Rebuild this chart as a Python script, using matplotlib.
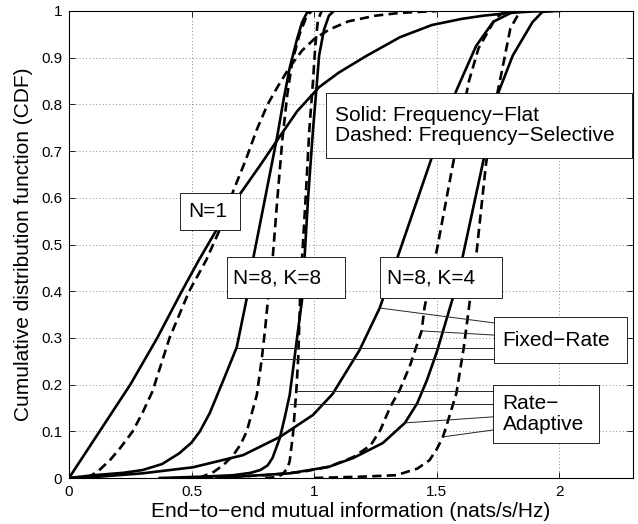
#!/usr/bin/env python3
"""
CDF of end-to-end mutual information, frequency-flat vs frequency-selective.
Saves out.png
"""

import matplotlib
matplotlib.use("Agg")
import matplotlib.pyplot as plt
from matplotlib.patches import Rectangle

# N=1
n1_flat_x = [0, 0.125, 0.25, 0.36, 0.46, 0.53, 0.60, 0.70, 0.78, 0.85, 0.93,
             1.02, 1.10, 1.21, 1.35, 1.48, 1.60, 1.69, 1.80, 1.89, 2.0]
n1_flat_y = [0, 0.1, 0.2, 0.3, 0.4, 0.467, 0.53, 0.61, 0.67, 0.724, 0.785,
             0.837, 0.868, 0.903, 0.944, 0.97, 0.983, 0.99, 0.996, 0.999, 1.0]
n1_sel_x = [0.073, 0.12, 0.17, 0.21, 0.26, 0.30, 0.34, 0.41, 0.49, 0.56, 0.63,
            0.67, 0.72, 0.765, 0.81, 0.85, 0.90, 0.95, 1.0, 1.06, 1.14, 1.25,
            1.35, 1.5]
n1_sel_y = [0, 0.015, 0.04, 0.065, 0.1, 0.14, 0.185, 0.3, 0.4, 0.467, 0.55,
            0.615, 0.68, 0.745, 0.8, 0.837, 0.88, 0.915, 0.94, 0.96, 0.978, 0.99,
            0.996, 1.0]

# N=8, K=8
k8_fr_flat_x = [0, 0.1, 0.22, 0.30, 0.38, 0.45, 0.50, 0.534, 0.574, 0.60, 0.63,
                0.684, 0.725, 0.75, 0.80, 0.85, 0.875, 0.90, 0.93, 0.95, 0.97,
                0.99]
k8_fr_flat_y = [0, 0.006, 0.011, 0.017, 0.03, 0.053, 0.076, 0.1, 0.139, 0.172,
                0.21, 0.28, 0.385, 0.467, 0.6, 0.734, 0.81, 0.878, 0.94, 0.975,
                0.996, 1.0]
k8_fr_sel_x = [0.53, 0.59, 0.63, 0.67, 0.70, 0.725, 0.766, 0.786, 0.80, 0.81,
               0.83, 0.85, 0.87, 0.89, 0.91, 0.94, 0.97, 0.99]
k8_fr_sel_y = [0, 0.013, 0.028, 0.049, 0.072, 0.1, 0.178, 0.255, 0.32, 0.375,
               0.467, 0.6, 0.724, 0.82, 0.89, 0.95, 0.99, 1.0]
k8_ra_flat_x = [0.37, 0.55, 0.67, 0.74, 0.78, 0.81, 0.83, 0.86, 0.88, 0.90,
                0.913, 0.93, 0.95, 0.96, 0.975, 0.995, 1.01, 1.02, 1.04, 1.06,
                1.08]
k8_ra_flat_y = [0, 0.003, 0.006, 0.011, 0.017, 0.027, 0.043, 0.086, 0.13, 0.178,
                0.23, 0.3, 0.38, 0.467, 0.6, 0.745, 0.84, 0.905, 0.96, 0.99, 1.0]
k8_ra_sel_x = [0.80, 0.85, 0.87, 0.89, 0.90, 0.913, 0.927, 0.935, 0.942, 0.95,
               0.965, 0.98, 0.995, 1.005, 1.015, 1.03]
k8_ra_sel_y = [0, 0.002, 0.008, 0.02, 0.036, 0.092, 0.186, 0.26, 0.38, 0.467,
               0.6, 0.745, 0.85, 0.93, 0.98, 1.0]

# N=8, K=4
k4_fr_flat_x = [0, 0.1, 0.3, 0.506, 0.71, 0.86, 0.995, 1.075, 1.185, 1.267,
                1.34, 1.41, 1.48, 1.58, 1.66, 1.73, 1.81, 1.85]
k4_fr_flat_y = [0, 0.002, 0.01, 0.023, 0.049, 0.088, 0.135, 0.18, 0.274, 0.364,
                0.473, 0.58, 0.687, 0.83, 0.925, 0.977, 0.998, 1.0]
k4_fr_sel_x = [0.55, 0.8, 0.95, 1.06, 1.16, 1.23, 1.27, 1.31, 1.35, 1.39,
               1.438, 1.45, 1.50, 1.565, 1.63, 1.67, 1.74, 1.78]
k4_fr_sel_y = [0, 0.006, 0.013, 0.024, 0.045, 0.07, 0.103, 0.152, 0.19, 0.24,
               0.315, 0.366, 0.488, 0.67, 0.848, 0.92, 0.985, 1.0]
k4_ra_flat_x = [0.6, 0.9, 1.06, 1.16, 1.28, 1.37, 1.42, 1.46, 1.50, 1.565,
                1.605, 1.69, 1.75, 1.81, 1.89, 1.93, 1.97]
k4_ra_flat_y = [0, 0.01, 0.024, 0.043, 0.075, 0.118, 0.16, 0.21, 0.27, 0.385,
                0.473, 0.68, 0.824, 0.905, 0.976, 0.998, 1.0]
k4_ra_sel_x = [1.0, 1.2, 1.335, 1.42, 1.47, 1.50, 1.525, 1.55, 1.58, 1.61,
               1.635, 1.66, 1.70, 1.73, 1.77, 1.80, 1.84]
k4_ra_sel_y = [0, 0.003, 0.006, 0.02, 0.038, 0.062, 0.088, 0.13, 0.182, 0.28,
               0.381, 0.473, 0.67, 0.78, 0.884, 0.963, 1.0]

x_ticks = [0, 0.5, 1, 1.5, 2]
x_tick_labels = ["0", "0.5", "1", "1.5", "2"]
y_ticks = [0, 0.1, 0.2, 0.3, 0.4, 0.5, 0.6, 0.7, 0.8, 0.9, 1]
y_tick_labels = ["0", "0.1", "0.2", "0.3", "0.4", "0.5", "0.6", "0.7", "0.8", "0.9", "1"]

# pointer lines from the two annotation boxes (start point on curve, end on box)
fixed_rate_ptrs = [((1.267, 0.364), (1.735, 0.332)),
                   ((1.438, 0.315), (1.735, 0.306)),
                   ((0.684, 0.279), (1.735, 0.279)),
                   ((0.786, 0.255), (1.735, 0.255))]
rate_adapt_ptrs = [((0.933, 0.186), (1.731, 0.186)),
                   ((0.900, 0.158), (1.731, 0.158)),
                   ((1.370, 0.118), (1.731, 0.131)),
                   ((1.525, 0.088), (1.731, 0.103))]


def add_box(ax, x0, x1, y0, y1, text, tx, fs=15):
    ax.add_patch(Rectangle((x0, y0), x1 - x0, y1 - y0, facecolor="white",
                           edgecolor="black", linewidth=0.6, zorder=5))
    ax.text(tx, (y0 + y1) / 2, text, ha="left", va="center", fontsize=fs,
            linespacing=1.1, zorder=6)


def main():
    plt.rcParams["font.family"] = ["Liberation Sans", "DejaVu Sans"]

    fig = plt.figure(figsize=(6.38, 5.24), dpi=100)
    ax = fig.add_axes([69 / 638, 1 - 478 / 524, 564 / 638, 467 / 524])

    lw = 1.9
    dash = (0, (3.5, 2.0))
    solid_curves = [(n1_flat_x, n1_flat_y), (k8_fr_flat_x, k8_fr_flat_y),
                    (k8_ra_flat_x, k8_ra_flat_y), (k4_fr_flat_x, k4_fr_flat_y),
                    (k4_ra_flat_x, k4_ra_flat_y)]
    dashed_curves = [(n1_sel_x, n1_sel_y), (k8_fr_sel_x, k8_fr_sel_y),
                     (k8_ra_sel_x, k8_ra_sel_y), (k4_fr_sel_x, k4_fr_sel_y),
                     (k4_ra_sel_x, k4_ra_sel_y)]
    for x, y in solid_curves:
        ax.plot(x, y, color="black", lw=lw, solid_joinstyle="round", zorder=3)
    for x, y in dashed_curves:
        ax.plot(x, y, color="black", lw=lw, linestyle=dash, zorder=3)

    for (p0, p1) in fixed_rate_ptrs + rate_adapt_ptrs:
        ax.plot([p0[0], p1[0]], [p0[1], p1[1]], color="0.15", lw=0.7, zorder=4)

    add_box(ax, 0.452, 0.697, 0.531, 0.610, "N=1", 0.485)
    add_box(ax, 0.644, 1.124, 0.385, 0.473, "N=8, K=8", 0.668)
    add_box(ax, 1.267, 1.764, 0.385, 0.473, "N=8, K=4", 1.295)
    add_box(ax, 1.047, 2.297, 0.685, 0.824,
            "Solid: Frequency\u2212Flat\nDashed: Frequency\u2212Selective", 1.083)
    add_box(ax, 1.735, 2.277, 0.246, 0.345, "Fixed\u2212Rate", 1.768)
    add_box(ax, 1.731, 2.163, 0.075, 0.199, "Rate\u2212\nAdaptive", 1.768)

    ax.set_xlim(0, 2.3)
    ax.set_ylim(0, 1)
    ax.set_xticks(x_ticks)
    ax.set_xticklabels(x_tick_labels)
    ax.set_yticks(y_ticks)
    ax.set_yticklabels(y_tick_labels)
    ax.tick_params(direction="in", length=4, width=0.6, labelsize=11,
                   top=True, right=True, pad=5)
    ax.grid(True, color="0.4", linestyle=(0, (1, 3)), linewidth=0.6)
    for s in ax.spines.values():
        s.set_linewidth(0.8)
        s.set_zorder(7)

    ax.set_xlabel("End\u2212to\u2212end mutual information (nats/s/Hz)", fontsize=15,
                  labelpad=2)
    ax.set_ylabel("Cumulative distribution function (CDF)", fontsize=15, labelpad=6)

    fig.savefig("out.png", dpi=100)
    plt.close(fig)


if __name__ == "__main__":
    main()
